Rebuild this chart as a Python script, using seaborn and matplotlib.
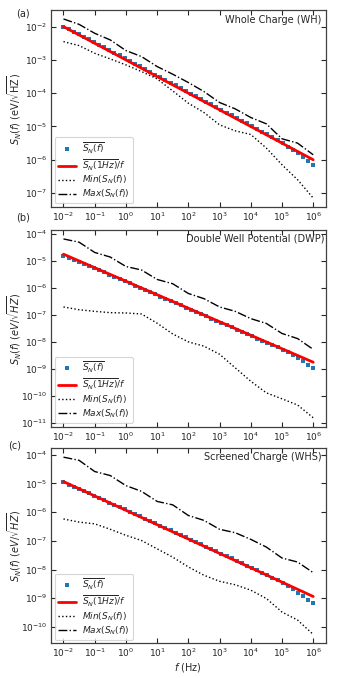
import numpy as np
import pandas as pd
import matplotlib
matplotlib.use("Agg")
import matplotlib.pyplot as plt
import matplotlib.ticker as mticker
import seaborn as sns

sns.set_theme(style="ticks")
plt.rcParams['font.family'] = ['DejaVu Sans']
plt.rcParams['mathtext.fontset'] = 'dejavusans'

# ---------------- data ----------------
freq = np.logspace(-2, 6, 50)          # frequency grid of the mean spectrum (Hz)
freq_env = [0.01, 0.0316, 0.1, 0.316, 1, 3.16, 10, 31.6, 100, 316,
            1e3, 3.16e3, 1e4, 3.16e4, 1e5, 3.16e5, 1e6]
freq_fit = [1e-2, 1e6]

mean_wh = [1.00e-2, 8.48e-3, 7.03e-3, 5.82e-3, 5.05e-3, 4.19e-3, 3.47e-3, 2.87e-3, 2.38e-3, 1.97e-3,
           1.64e-3, 1.36e-3, 1.12e-3, 9.31e-4, 7.71e-4, 6.39e-4, 5.30e-4, 4.39e-4, 3.64e-4, 3.01e-4,
           2.50e-4, 2.07e-4, 1.71e-4, 1.42e-4, 1.18e-4, 9.75e-5, 8.08e-5, 6.70e-5, 5.55e-5, 4.60e-5,
           3.81e-5, 3.16e-5, 2.62e-5, 2.17e-5, 1.80e-5, 1.49e-5, 1.23e-5, 1.02e-5, 8.47e-6, 7.02e-6,
           5.82e-6, 4.71e-6, 3.81e-6, 3.09e-6, 2.50e-6, 1.98e-6, 1.57e-6, 1.21e-6, 9.37e-7, 6.92e-7]
fit_wh = [1.0e-2, 1.0e-6]
min_wh = [3.55e-3, 2.69e-3, 1.58e-3, 1.07e-3, 7.08e-4, 4.47e-4, 2.69e-4, 1.17e-4, 5.01e-5, 2.63e-5,
          1.12e-5, 7.41e-6, 5.75e-6, 2.24e-6, 7.08e-7, 2.51e-7, 7.08e-8]
max_wh = [1.70e-2, 1.17e-2, 6.31e-3, 3.98e-3, 1.91e-3, 1.26e-3, 6.31e-4, 3.72e-4, 2.09e-4, 1.12e-4,
          5.25e-5, 3.39e-5, 1.86e-5, 1.20e-5, 4.27e-6, 3.16e-6, 1.41e-6]

mean_dwp = [1.53e-5, 1.33e-5, 1.13e-5, 9.55e-6, 8.10e-6, 6.71e-6, 5.56e-6, 4.61e-6, 3.82e-6, 3.16e-6,
            2.62e-6, 2.17e-6, 1.80e-6, 1.49e-6, 1.24e-6, 1.02e-6, 8.49e-7, 7.03e-7, 5.83e-7, 4.83e-7,
            4.00e-7, 3.32e-7, 2.75e-7, 2.28e-7, 1.89e-7, 1.56e-7, 1.30e-7, 1.07e-7, 8.90e-8, 7.37e-8,
            6.11e-8, 5.06e-8, 4.20e-8, 3.48e-8, 2.88e-8, 2.39e-8, 1.98e-8, 1.64e-8, 1.36e-8, 1.13e-8,
            9.33e-9, 7.73e-9, 6.40e-9, 5.19e-9, 4.20e-9, 3.32e-9, 2.57e-9, 1.94e-9, 1.43e-9, 1.08e-9]
fit_dwp = [1.8e-5, 1.8e-9]
min_dwp = [2.00e-7, 1.58e-7, 1.38e-7, 1.23e-7, 1.20e-7, 1.10e-7, 5.01e-8, 2.00e-8, 1.02e-8, 7.08e-9,
           3.55e-9, 1.12e-9, 3.55e-10, 1.32e-10, 7.94e-11, 4.68e-11, 1.58e-11]
max_dwp = [6.61e-5, 5.01e-5, 2.09e-5, 1.41e-5, 6.31e-6, 4.68e-6, 2.09e-6, 1.45e-6, 6.31e-7, 4.07e-7,
           2.00e-7, 1.38e-7, 7.41e-8, 4.90e-8, 2.09e-8, 1.35e-8, 5.37e-9]

mean_whs = [1.07e-5, 9.09e-6, 7.70e-6, 6.53e-6, 5.41e-6, 4.49e-6, 3.72e-6, 3.08e-6, 2.55e-6, 2.12e-6,
            1.75e-6, 1.52e-6, 1.26e-6, 1.04e-6, 8.65e-7, 7.17e-7, 5.94e-7, 4.92e-7, 4.08e-7, 3.38e-7,
            2.80e-7, 2.32e-7, 1.92e-7, 1.59e-7, 1.32e-7, 1.09e-7, 9.07e-8, 7.51e-8, 6.23e-8, 5.16e-8,
            4.28e-8, 3.54e-8, 2.94e-8, 2.43e-8, 2.02e-8, 1.67e-8, 1.35e-8, 1.12e-8, 9.29e-9, 7.70e-9,
            6.38e-9, 5.17e-9, 4.28e-9, 3.31e-9, 2.62e-9, 2.03e-9, 1.57e-9, 1.18e-9, 8.94e-10, 6.76e-10]
fit_whs = [1.15e-5, 1.15e-9]
min_whs = [5.75e-7, 4.47e-7, 3.89e-7, 2.51e-7, 1.55e-7, 1.02e-7, 5.25e-8, 2.69e-8, 1.23e-8, 6.31e-9,
           3.89e-9, 2.95e-9, 1.91e-9, 9.77e-10, 3.31e-10, 1.74e-10, 5.50e-11]
max_whs = [8.13e-5, 6.31e-5, 2.57e-5, 1.86e-5, 8.32e-6, 5.25e-6, 2.34e-6, 1.78e-6, 7.59e-7, 5.13e-7,
           2.51e-7, 1.91e-7, 1.12e-7, 6.03e-8, 2.51e-8, 1.82e-8, 7.76e-9]

x_ticks = [1e-2, 1e-1, 1e0, 1e1, 1e2, 1e3, 1e4, 1e5, 1e6]
y_ticks = [[1e-7, 1e-6, 1e-5, 1e-4, 1e-3, 1e-2],
           [1e-11, 1e-10, 1e-9, 1e-8, 1e-7, 1e-6, 1e-5, 1e-4],
           [1e-10, 1e-9, 1e-8, 1e-7, 1e-6, 1e-5, 1e-4]]

panel_titles = ["Whole Charge (WH)", "Double Well Potential (DWP)", "Screened Charge (WHS)"]
panel_tags = ["(a)", "(b)", "(c)"]
legend_labels = [r"$\overline{S_N(f)}$", r"$\overline{S_N(1Hz)}/f$",
                 r"$Min(S_N(f))$", r"$Max(S_N(f))$"]
ylabels = [r"$S_N(f)$ (eV/$\sqrt{\mathrm{HZ}}$)", r"$S_N(f)\ (eV/\sqrt{HZ})$", r"$S_N(f)\ (eV/\sqrt{HZ})$"]

panels = [(mean_wh, fit_wh, min_wh, max_wh),
          (mean_dwp, fit_dwp, min_dwp, max_dwp),
          (mean_whs, fit_whs, min_whs, max_whs)]

# ---------------- figure ----------------
W, H = 339, 678
fig = plt.figure(figsize=(W / 100, H / 100), dpi=100)
ax_boxes = [(51, 10, 325.7, 207), (51, 230, 325.7, 426.7), (51, 448.3, 325.7, 643.3)]
tag_pos = [(16, 13), (16, 217), (8, 446)]
title_x = [0.985, 0.994, 0.985]
title_y = [0.95, 0.958, 0.955]

for k, (mean_v, fit_v, min_v, max_v) in enumerate(panels):
    x0, y0, x1, y1 = ax_boxes[k]
    axw = x1 - x0
    ax = fig.add_axes([x0 / W, 1 - y1 / H, axw / W, (y1 - y0) / H])
    ax.set_xscale("log")
    ax.set_yscale("log")

    df_mean = pd.DataFrame({"f": freq, "S": mean_v})
    df_fit = pd.DataFrame({"f": freq_fit, "S": fit_v})
    df_min = pd.DataFrame({"f": freq_env, "S": min_v})
    df_max = pd.DataFrame({"f": freq_env, "S": max_v})

    sns.lineplot(data=df_mean, x="f", y="S", ax=ax, marker="s", markersize=2.6,
                 markeredgewidth=0, color="#1f77b4", linestyle="none",
                 label=legend_labels[0], zorder=2)
    sns.lineplot(data=df_fit, x="f", y="S", ax=ax, color="red", linewidth=2.0,
                 label=legend_labels[1], zorder=3)
    sns.lineplot(data=df_min, x="f", y="S", ax=ax, color="black", linewidth=1.0,
                 linestyle=":", label=legend_labels[2], zorder=3)
    sns.lineplot(data=df_max, x="f", y="S", ax=ax, color="black", linewidth=1.0,
                 linestyle="-.", label=legend_labels[3], zorder=3)

    ax.autoscale_view()
    xl = ax.get_xlim()
    yl = ax.get_ylim()
    ax.set_xticks(x_ticks)
    ax.set_yticks(y_ticks[k])
    ax.xaxis.set_minor_locator(mticker.NullLocator())
    ax.yaxis.set_minor_locator(mticker.NullLocator())
    ax.set_xlim(xl)
    ax.set_ylim(yl)
    ax.tick_params(which="both", direction="in", top=True, right=True, length=3.5,
                   width=0.8, labelsize=6.5, colors="0.15", pad=2.5)
    for sp in ax.spines.values():
        sp.set_color("0.25")
        sp.set_linewidth(0.9)

    ax.set_ylabel(ylabels[k], fontsize=7)
    ax.yaxis.set_label_coords((24 - x0) / axw, 0.5)
    if k == 2:
        ax.set_xlabel(r"$f$ (Hz)", fontsize=7, labelpad=1)
    else:
        ax.set_xlabel("")

    ax.text(title_x[k], title_y[k], panel_titles[k], transform=ax.transAxes,
            ha="right", va="center", fontsize=7, color="0.15")
    fig.text(tag_pos[k][0] / W, 1 - tag_pos[k][1] / H, panel_tags[k], fontsize=7,
             ha="left", va="center", color="0.15")

    leg = ax.legend(loc="lower left", fontsize=6.5, handlelength=2.0, borderaxespad=0.4,
                    labelspacing=0.15, handletextpad=0.7, borderpad=0.35, numpoints=1)
    leg.get_frame().set_linewidth(0.8)

fig.savefig("out.png", dpi=100)
